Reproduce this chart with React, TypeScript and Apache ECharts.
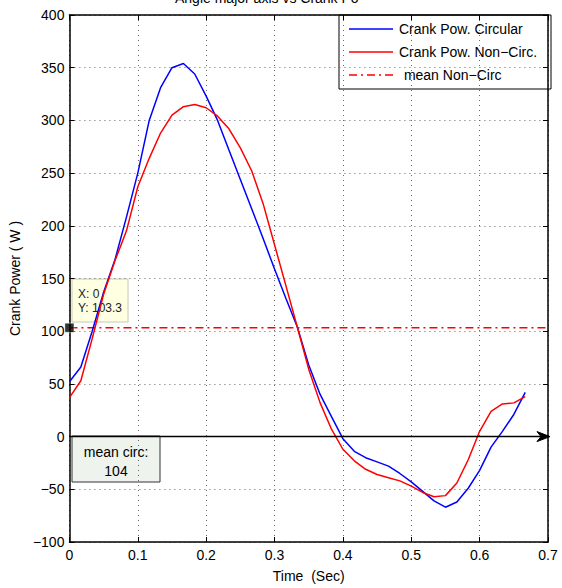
import React, { useEffect, useRef } from "react";
import * as echarts from "echarts";

const time = [0, 0.0167, 0.0333, 0.05, 0.0667, 0.0833, 0.1, 0.1167, 0.1333, 0.15, 0.1667, 0.1833, 0.2, 0.2167, 0.2333, 0.25, 0.2667, 0.2833, 0.3, 0.3167, 0.3333, 0.35, 0.3667, 0.3833, 0.4, 0.4167, 0.4333, 0.45, 0.4667, 0.4833, 0.5, 0.5167, 0.5333, 0.55, 0.5667, 0.5833, 0.6, 0.6167, 0.6333, 0.65, 0.6667];
const circular = [52, 66, 100, 137, 168, 208, 250, 300, 331, 350, 354, 344, 323, 300, 272, 244, 216, 188, 159, 131, 104, 68, 40, 19, -2, -14, -20, -24, -28, -35, -43, -52, -61, -67, -62, -49, -32, -10, 5, 21, 42];
const nonCirc = [37, 53, 93, 135, 167, 195, 237, 264, 288, 305, 313, 315, 312, 304, 292, 274, 252, 221, 182, 143, 104, 64, 32, 7, -12, -23, -31, -36, -39, -42, -47, -53, -57, -56, -44, -22, 5, 24, 31, 32, 38];
const meanNonCirc = 103.3;
const meanCirc = 104;
const xRange = [0, 0.7];
const legendLabels = ["Crank Pow. Circular", "Crank Pow. Non\u2212Circ.", " mean Non\u2212Circ"];
const titleText = "Angle major axis vs Crank Po";

export default function App() {
  const ref = useRef<HTMLDivElement>(null);
  useEffect(() => {
    const chart = echarts.init(ref.current!, null, { renderer: "svg" });
    const font = "'Liberation Sans', Arial, Helvetica, sans-serif";
    const fmt = (v: number) => {
      const s = String(parseFloat(v.toFixed(3)));
      return s.replace("-", "\u2212");
    };
    const axisLine = { show: true, onZero: false, lineStyle: { color: "#000", width: 1.5 } };
    const axisTick = { show: true, inside: true, length: 5, lineStyle: { color: "#000", width: 1 } };
    const splitLine = { show: true, lineStyle: { color: "#666", width: 1, type: [1, 4] } };
    const dashDot = [8, 4, 2, 4];
    chart.setOption({
      animation: false,
      textStyle: { fontFamily: font },
      grid: { left: 68, right: 14, top: 15, bottom: 45 },
      xAxis: [
        {
          type: "value", min: 0, max: 0.7, interval: 0.1, position: "bottom",
          name: "Time  (Sec)", nameLocation: "middle", nameGap: 27,
          nameTextStyle: { fontSize: 14, color: "#000", fontFamily: font },
          axisLine, axisTick,
          axisLabel: { fontSize: 14, color: "#000", margin: 6, formatter: fmt, fontFamily: font },
          splitLine,
        },
        {
          type: "value", min: 0, max: 0.7, interval: 0.1, position: "top",
          axisLine, axisTick, axisLabel: { show: false }, splitLine: { show: false },
        },
      ],
      yAxis: [
        {
          type: "value", min: -100, max: 400, interval: 50, position: "left",
          name: "Crank Power ( W )", nameLocation: "middle", nameGap: 46,
          nameTextStyle: { fontSize: 14, color: "#000", fontFamily: font },
          axisLine, axisTick,
          axisLabel: { fontSize: 14, color: "#000", margin: 5, formatter: fmt, fontFamily: font },
          splitLine,
        },
        {
          type: "value", min: -100, max: 400, interval: 50, position: "right",
          axisLine, axisTick, axisLabel: { show: false }, splitLine: { show: false },
        },
      ],
      series: [
        {
          name: legendLabels[0], type: "line", showSymbol: false, symbol: "none",
          data: time.map((t, i) => [t, circular[i]]),
          lineStyle: { color: "#0000ff", width: 1.5 }, itemStyle: { color: "#0000ff" },
          z: 3,
        },
        {
          name: legendLabels[1], type: "line", showSymbol: false, symbol: "none",
          data: time.map((t, i) => [t, nonCirc[i]]),
          lineStyle: { color: "#ff0000", width: 1.5 }, itemStyle: { color: "#ff0000" },
          z: 4,
        },
        {
          name: legendLabels[2], type: "line", showSymbol: false, symbol: "none",
          data: xRange.map((x) => [x, meanNonCirc]),
          lineStyle: { color: "#ff0000", width: 1.5, type: dashDot },
          z: 2,
        },
        {
          type: "line", showSymbol: false, symbol: "none",
          data: xRange.map((x) => [x, 0]),
          lineStyle: { color: "#000", width: 1.5 },
          z: 5,
        },
        {
          type: "scatter", symbol: "rect", symbolSize: 9, clip: false,
          data: [[0, meanNonCirc]],
          itemStyle: { color: "#000", borderColor: "#ffffe1", borderWidth: 0.5 },
          z: 10,
        },
      ],
      graphic: [
        {
          id: "title", type: "text", left: 175, top: -9, z: 20,
          style: { text: titleText, fontSize: 14, fill: "#000", fontFamily: font },
        },
        {
          id: "legend", type: "group", z: 20,
          children: [
            { type: "rect", shape: { x: 339, y: 15, width: 212, height: 74 }, style: { fill: "#fff", stroke: "#000", lineWidth: 1 } },
            { type: "line", shape: { x1: 349, y1: 29, x2: 393, y2: 29 }, style: { stroke: "#0000ff", lineWidth: 1.5 } },
            { type: "line", shape: { x1: 349, y1: 52, x2: 393, y2: 52 }, style: { stroke: "#ff0000", lineWidth: 1.5 } },
            { type: "line", shape: { x1: 349, y1: 75, x2: 393, y2: 75 }, style: { stroke: "#ff0000", lineWidth: 1.5, lineDash: dashDot } },
            { type: "text", x: 399, y: 29, style: { text: legendLabels[0], fontSize: 14, fill: "#000", verticalAlign: "middle", fontFamily: font } },
            { type: "text", x: 399, y: 52, style: { text: legendLabels[1], fontSize: 14, fill: "#000", verticalAlign: "middle", fontFamily: font } },
            { type: "text", x: 400, y: 75, style: { text: legendLabels[2], fontSize: 14, fill: "#000", verticalAlign: "middle", fontFamily: font } },
          ],
        },
        {
          id: "datatip", type: "group", z: 20,
          children: [
            { type: "rect", shape: { x: 72, y: 279, width: 56, height: 43 }, style: { fill: "#ffffe1", stroke: "#c8c8b0", lineWidth: 1 } },
            { type: "text", x: 78, y: 294, style: { text: `X: ${xRange[0]}`, fontSize: 12, fill: "#222", verticalAlign: "middle", fontFamily: font } },
            { type: "text", x: 78, y: 308, style: { text: `Y: ${meanNonCirc}`, fontSize: 12, fill: "#222", verticalAlign: "middle", fontFamily: font } },
          ],
        },
        {
          id: "meancirc", type: "group", z: 20,
          children: [
            { type: "rect", shape: { x: 72, y: 436, width: 88, height: 46 }, style: { fill: "#eef3ee", stroke: "#333", lineWidth: 1 } },
            { type: "text", x: 116, y: 452, style: { text: "mean circ:", fontSize: 14, fill: "#000", align: "center", verticalAlign: "middle", fontFamily: font } },
            { type: "text", x: 116, y: 471, style: { text: String(meanCirc), fontSize: 14, fill: "#000", align: "center", verticalAlign: "middle", fontFamily: font } },
          ],
        },
      ],
    });
    const tip = chart.convertToPixel({ gridIndex: 0 }, [xRange[1], 0]) as number[];
    const tx = tip[0] + 2;
    const ty = tip[1];
    chart.setOption({
      graphic: [
        {
          id: "arrowhead", type: "polygon", z: 21,
          shape: { points: [[tx, ty], [tx - 13, ty - 5], [tx - 9, ty], [tx - 13, ty + 5]] },
          style: { fill: "#000", stroke: "#000", lineWidth: 1 },
        },
      ],
    });
    return () => chart.dispose();
  }, []);
  return <div ref={ref} style={{ width: 562, height: 588, position: "absolute", left: 0, top: 0 }} />;
}
